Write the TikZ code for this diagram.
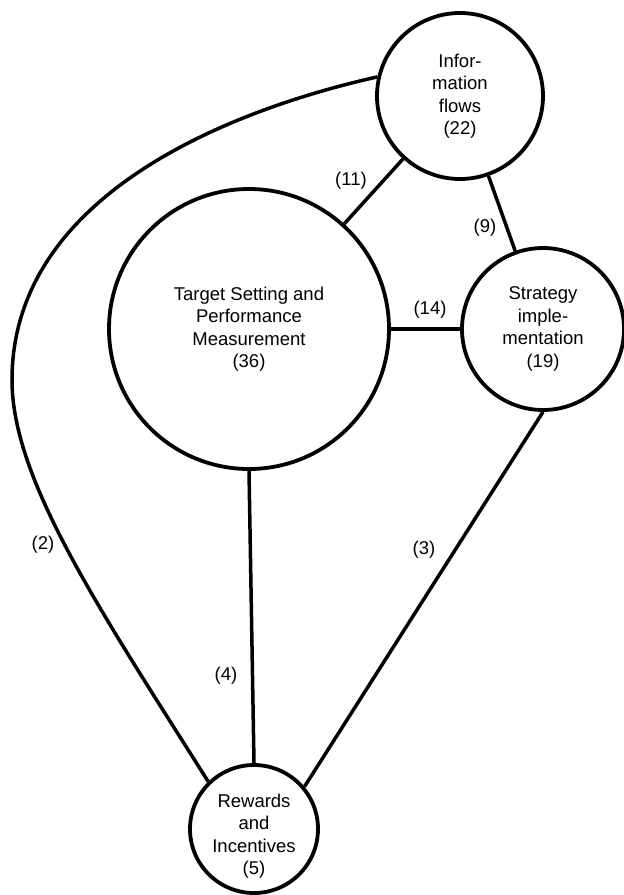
\documentclass[tikz,border=0pt]{standalone}
\usepackage{fontspec}
\setmainfont{Liberation Sans}
\begin{document}
\begin{tikzpicture}[x=1pt,y=-1pt,
  topic/.style={circle, draw, line width=3.8pt, inner sep=0pt, align=center,
    font=\fontsize{18.5}{22.5}\selectfont},
  link/.style={line width=3.5pt},
  weight/.style={font=\fontsize{18.5}{22.5}\selectfont, inner sep=0pt}]
\useasboundingbox (0,0) rectangle (624,895);
\node[topic, minimum size=166pt] (info) at (460,96) {Infor-\\mation\\flows\\(22)};
\node[topic, minimum size=280pt] (target) at (249,329) {Target Setting and\\Performance\\Measurement\\(36)};
\node[topic, minimum size=162pt] (strat) at (543,329) {Strategy\\imple-\\mentation\\(19)};
\node[topic, minimum size=128pt,
  label={[name=rewtext, align=center, font=\fontsize{18.5}{22.5}\selectfont, yshift=-7pt]center:Rewards\\and\\Incentives\\(5)}]
  (rew) at (254,829) {};
\draw[link] (info) -- (target);
\draw[link] (info) -- (strat);
\draw[link] (target) -- (strat);
\draw[link] (target.south) -- (rew.north);
\draw[link] (strat.south) -- (rew.40);
\draw[link] (info.167) .. controls (230,110) and (12,195) .. (12,380)
  .. controls (12,480) and (100,610) .. (rew.134);
\node[weight] (w11) at (351,181) {(11)};
\node[weight] (w9) at (485,228) {(9)};
\node[weight] (w14) at (430,310) {(14)};
\node[weight] (w2) at (43,545) {(2)};
\node[weight] (w3) at (424,550) {(3)};
\node[weight] (w4) at (226,676) {(4)};
\end{tikzpicture}
\end{document}
